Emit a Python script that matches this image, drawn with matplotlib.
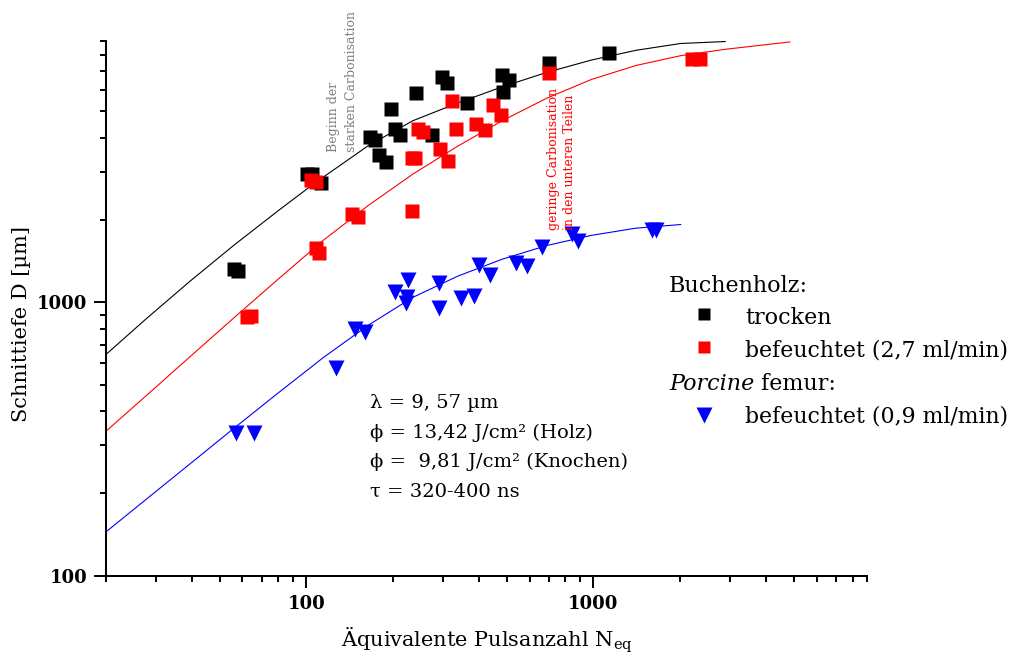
import matplotlib
matplotlib.use("Agg")
import matplotlib.pyplot as plt
from matplotlib.lines import Line2D
from matplotlib.ticker import NullFormatter

# Schnitttiefe über äquivalenter Pulsanzahl, CO2-Laser 9,57 µm

# Buchenholz, trocken
dry_n = [56, 58, 101, 105, 113, 167, 174, 180, 190, 198, 204, 213, 242, 274,
         297, 310, 364, 482, 508, 485, 701, 1136]
dry_d = [1320, 1300, 2950, 2950, 2730, 4030, 3920, 3460, 3270, 5080, 4290, 4090,
         5810, 4090, 6690, 6320, 5370, 6780, 6500, 5890, 7490, 8140]

# Buchenholz, befeuchtet (2,7 ml/min)
wet_n = [62, 64, 104, 108, 108, 111, 144, 151, 233, 233, 240, 246, 255, 292,
         311, 322, 333, 391, 420, 448, 478, 701, 2200, 2360]
wet_d = [880, 890, 2800, 2760, 1580, 1510, 2100, 2050, 2160, 3360, 3380, 4290,
         4210, 3630, 3290, 5450, 4300, 4480, 4270, 5270, 4840, 6920, 7740, 7740]

# Porcine femur, befeuchtet (0,9 ml/min)
bone_n = [57, 66, 127, 148, 160, 204, 227, 225, 222, 289, 289, 346, 384, 400,
          436, 536, 586, 665, 845, 885, 1600, 1650]
bone_d = [333, 332, 574, 796, 780, 1094, 1206, 1048, 991, 1180, 951, 1034, 1054,
          1369, 1258, 1396, 1358, 1589, 1778, 1680, 1840, 1840]

# Fitkurven
dry_fit_n = [20.3, 27.5, 39.3, 56.2, 80.5, 107, 165, 235, 337, 482, 689, 984,
             1408, 2015, 2881]
dry_fit_d = [651, 864, 1192, 1622, 2176, 2727, 3748, 4612, 5358, 6139, 6934, 7690,
             8350, 8843, 8990]
wet_fit_n = [20.3, 27.5, 39.3, 56.2, 80.5, 115, 165, 235, 337, 482, 689, 984,
             1408, 2015, 2881, 4838]
wet_fit_d = [341, 452, 631, 880, 1224, 1689, 2265, 2941, 3723, 4616, 5580, 6530,
             7348, 7980, 8420, 8960]
bone_fit_n = [20.3, 27.5, 39.3, 56.2, 80.5, 115, 165, 235, 337, 482, 689, 984,
              1408, 2015]
bone_fit_d = [146, 189, 256, 347, 469, 629, 826, 1042, 1246, 1438, 1613, 1757,
              1867, 1925]

W, H = 1010, 658


def fpos(x, y):
    """pixel position -> figure fraction"""
    return x / W, 1 - y / H


plt.rcParams["font.family"] = "DejaVu Serif"
plt.rcParams["mathtext.fontset"] = "dejavuserif"

fig = plt.figure(figsize=(W / 100, H / 100), dpi=100)
ax = fig.add_axes([105.5 / W, 1 - 575.7 / H, 761.8 / W, 534.3 / H])
ax.set_xscale("log")
ax.set_yscale("log")

ax.plot(dry_fit_n, dry_fit_d, color="black", lw=0.8)
ax.plot(wet_fit_n, wet_fit_d, color="#ff0000", lw=0.8)
ax.plot(bone_fit_n, bone_fit_d, color="#0000ff", lw=0.8)

ax.plot(dry_n, dry_d, "s", color="black", ms=9.4, mec="none")
ax.plot(wet_n, wet_d, "s", color="#ff0000", ms=9.4, mec="none")
ax.plot(bone_n, bone_d, "v", color="#0000ff", ms=11, mec="none")

ax.set_xlim(20, 9000)
ax.set_ylim(100, 9000)

minor_x = [m * 10 ** e for e in (1, 2, 3) for m in range(2, 10) if 20 <= m * 10 ** e <= 9000]
minor_y = [m * 10 ** e for e in (2, 3) for m in range(2, 10) if m * 10 ** e <= 9000]
ax.set_xticks([100, 1000], labels=["100", "1000"], fontsize=13, fontweight="bold")
ax.set_yticks([100, 1000], labels=["100", "1000"], fontsize=13, fontweight="bold")
ax.set_xticks(minor_x, minor=True)
ax.set_yticks(minor_y, minor=True)
ax.xaxis.set_minor_formatter(NullFormatter())
ax.yaxis.set_minor_formatter(NullFormatter())
ax.tick_params(which="major", direction="out", length=8.6, width=1.4)
ax.tick_params(which="minor", direction="out", length=4.3, width=1.4)
ax.tick_params(axis="x", which="major", pad=5.5)
ax.tick_params(axis="y", which="major", pad=4.5)
for side in ("top", "right"):
    ax.spines[side].set_visible(False)
for side in ("left", "bottom"):
    ax.spines[side].set_linewidth(1.45)

# Achsenbeschriftung
fig.text(*fpos(487, 646.7), "Äquivalente Pulsanzahl N$_\\mathregular{eq}$",
         ha="center", va="baseline", fontsize=15)
fig.text(*fpos(22, 324), "Schnittiefe D [µm]", rotation=90,
         ha="center", va="center", fontsize=15)

# Hinweise zur Carbonisation
fig.text(*fpos(342.5, 152), "Beginn der\nstarken Carbonisation", rotation=90,
         ha="center", va="bottom", multialignment="left", color="#808080",
         fontsize=9, linespacing=1.45)
fig.text(*fpos(561.5, 230), "geringe Carbonisation\nin den unteren Teilen", rotation=90,
         ha="center", va="bottom", multialignment="left", color="#ff0000",
         fontsize=9, linespacing=1.35)

# Laserparameter
params = ["λ = 9, 57 µm", "ϕ = 13,42 J/cm² (Holz)",
          "ϕ =  9,81 J/cm² (Knochen)", "τ = 320-400 ns"]
for txt, yb in zip(params, (408, 437.5, 467, 496.5)):
    fig.text(*fpos(370, yb), txt, ha="left", va="baseline", fontsize=14)

# Legende
fig.text(*fpos(669, 291.7), "Buchenholz:", va="baseline", fontsize=16)
fig.text(*fpos(745, 324), "trocken", va="baseline", fontsize=16)
fig.text(*fpos(745, 356.7), "befeuchtet (2,7 ml/min)", va="baseline", fontsize=15.8)
porc = fig.text(*fpos(669, 390), "Porcine", va="baseline", fontsize=16, style="italic")
ax.annotate(" femur:", xy=(1, 0), xycoords=porc, va="bottom", ha="left",
            fontsize=16, annotation_clip=False)
fig.text(*fpos(745, 422.7), "befeuchtet (0,9 ml/min)", va="baseline", fontsize=15.8)

for (mx, my), mk, col, ms in (((704, 314), "s", "black", 9.0),
                              ((704, 347), "s", "#ff0000", 9.0),
                              ((704, 415), "v", "#0000ff", 11)):
    fx, fy = fpos(mx, my)
    fig.add_artist(Line2D([fx], [fy], marker=mk, color=col, ms=ms, mec="none",
                          ls="none", transform=fig.transFigure))

fig.savefig("out.png", dpi=100)
